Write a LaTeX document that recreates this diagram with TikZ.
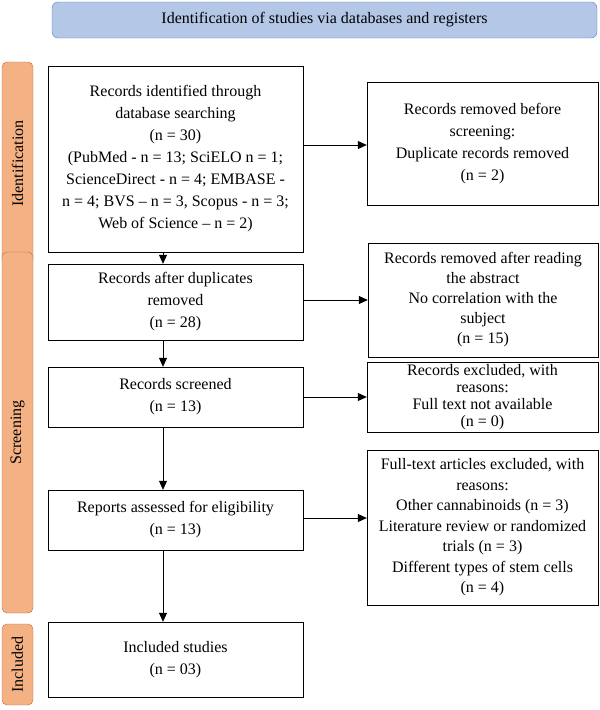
\documentclass[tikz,border=0pt]{standalone}
\usepackage{fontspec}
\setmainfont{Liberation Serif}
\usetikzlibrary{positioning, arrows.meta}
\definecolor{bluefill}{HTML}{B4C7E7}
\definecolor{blueline}{HTML}{5A84BE}
\definecolor{orangefill}{HTML}{F4B183}
\definecolor{orangeline}{HTML}{B8704A}
\tikzstyle{box} = [rectangle, draw=black, fill=white, text centered, align=center, inner sep=2pt]
\tikzstyle{phase} = [rectangle, rounded corners=5pt, draw=orangeline, fill=orangefill, minimum width=31pt, rotate=90, anchor=center]
\tikzstyle{arrow} = [thick,-{Triangle[length=9pt,width=8pt]}]
\begin{document}
\begin{tikzpicture}[x=1pt, y=-1pt, font=\fontsize{16}{22}\selectfont]
    \useasboundingbox (0,0) rectangle (600,710);
    \node (title) [rectangle, rounded corners=6pt, draw=blueline, fill=bluefill, minimum width=545pt, minimum height=36pt] at (324.5,20) {Identification of studies via databases and registers};
    % phase labels
    \node (ident) [phase, minimum width=203pt, minimum height=31pt] at (17.5,163.5) {Identification};
    \node (screen) [phase, minimum width=361pt, minimum height=31pt] at (17.5,432.5) {Screening};
    \node (incl) [phase, minimum width=81pt, minimum height=31pt] at (17.5,664.5) {Included};
    % main column
    \node (rec1) [box, minimum width=255pt, minimum height=186pt] at (175.5,159) {Records identified through\\database searching\\(n = 30)\\(PubMed - n = 13; SciELO n = 1;\\ScienceDirect - n = 4; EMBASE -\\n = 4; BVS -- n = 3, Scopus - n = 3;\\Web of Science -- n = 2)};
    \node (rec2) [box, minimum width=255pt, minimum height=76pt] at (175.5,302) {Records after duplicates\\removed\\(n = 28)};
    \node (rec3) [box, minimum width=255pt, minimum height=60pt] at (175.5,397) {Records screened\\(n = 13)};
    \node (rec4) [box, minimum width=255pt, minimum height=60pt] at (175.5,520) {Reports assessed for eligibility\\(n = 13)};
    \node (rec5) [box, minimum width=255pt, minimum height=75pt] at (175.5,659.5) {Included studies\\(n = 03)};
    % side column
    \node (out1) [box, minimum width=231pt, minimum height=123pt] at (482.5,143.5) {Records removed before\\screening:\\Duplicate records removed\\(n = 2)};
    \node (out2) [box, minimum width=230pt, minimum height=114pt, font=\fontsize{16}{20}\selectfont] at (483,300) {Records removed after reading\\the abstract\\No correlation with the\\subject\\(n = 15)};
    \node (out3) [box, minimum width=231pt, minimum height=70pt, inner sep=0pt, font=\fontsize{16}{17}\selectfont] at (482.5,397) {Records excluded, with\\reasons:\\Full text not available\\(n = 0)};
    \node (out4) [box, minimum width=231pt, minimum height=155pt, font=\fontsize{16}{20.5}\selectfont] at (482.5,527.5) {Full-text articles excluded, with\\reasons:\\Other cannabinoids (n = 3)\\Literature review or randomized\\trials (n = 3)\\Different types of stem cells\\(n = 4)};
    % connectors
    \draw[arrow] (rec1.south -| 163,0) -- (rec2.north -| 163,0);
    \draw[arrow] (rec2.south -| 163,0) -- (rec3.north -| 163,0);
    \draw[arrow] (rec3.south -| 163,0) -- (rec4.north -| 163,0);
    \draw[arrow] (rec4.south -| 163,0) -- (rec5.north -| 163,0);
    \draw[arrow] (rec1.east |- 0,145) -- (out1.west |- 0,145);
    \draw[arrow] (rec2.east |- 0,300) -- (out2.west |- 0,300);
    \draw[arrow] (rec3) -- (out3);
    \draw[arrow] (rec4.east |- 0,518) -- (out4.west |- 0,518);
\end{tikzpicture}
\end{document}
